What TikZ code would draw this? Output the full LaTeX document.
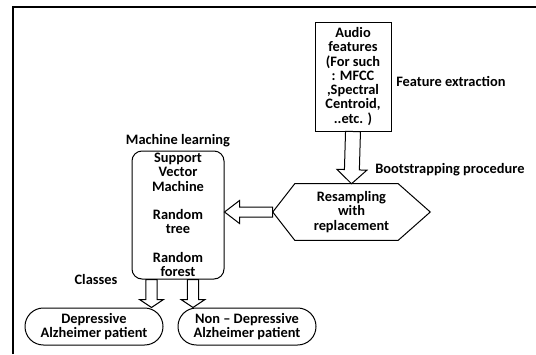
\documentclass[tikz,border=0pt]{standalone}
\usepackage{fontspec}
\setmainfont{Carlito}
\usepackage{tikz}
\usetikzlibrary{calc,positioning}

% hollow block arrow: shaft half width, head half width, head length, from, to
\newcommand\blockarrow[5]{%
\coordinate (ah) at ($(#5)!#3!(#4)$);
\draw[line width=0.75pt,fill=white] ($(#4)!#1!90:(#5)$) -- ($(ah)!#1!90:(#5)$) -- ($(ah)!#2!90:(#5)$) -- (#5) -- ($(ah)!#2!-90:(#5)$) -- ($(ah)!#1!-90:(#5)$) -- ($(#4)!#1!-90:(#5)$) -- cycle;
}

\begin{document}
\begin{tikzpicture}[x=0.75pt,y=0.75pt,yscale=-1,xscale=1,
  every node/.style={font=\fontsize{10.8}{10.7}\selectfont\bfseries},
  box/.style={draw,line width=0.75pt,align=center,inner sep=0pt},
  lbl/.style={align=left,inner sep=0pt}]
\useasboundingbox (0,0) rectangle (536,354);
\draw[line width=1.5pt] (13,354) -- (13,7) -- (536,7);
% nodes
\node[box,minimum width=57pt,minimum height=81.75pt] (audio) at (353,76.5) {Audio\\features\\(For such\\: MFCC\\,Spectral\\Centroid,\\..etc. )};
\node[lbl,anchor=west] (fext) at (396,81) {Feature extraction};
\node[align=center,inner sep=0pt,minimum width=117.75pt,minimum height=42pt] (hex) at (351.5,212) {Resampling\\with\\replacement};
\draw[line width=0.75pt] (hex.west) -- ($(hex.north west)+(22,0)$) -- ($(hex.north east)+(-32,0)$) -- (hex.east) -- ($(hex.south east)+(-32,0)$) -- ($(hex.south west)+(22,0)$) -- cycle;
\node[lbl,anchor=west] (boot) at (375,170) {Bootstrapping procedure};
\node[box,rounded corners=7.5pt,minimum width=69pt,minimum height=96pt] (ml) at (178,215) {Support\\Vector\\Machine\\[10.7pt]Random\\tree\\[10.7pt]Random\\forest};
\node[lbl,above=2.5pt of ml] (mltitle) {Machine learning};
\node[lbl] (classes) at (96,279) {Classes};
\node[box,rounded corners=13.8pt,minimum width=103.5pt,minimum height=27.75pt] (dep) at (94,326.5) {Depressive\\Alzheimer patient};
\node[box,rounded corners=13.8pt,minimum width=103.5pt,minimum height=27.75pt] (ndep) at (247,326.5) {Non -- Depressive\\Alzheimer patient};
\coordinate (d1) at ($(ml.south)+(-26.5,0)$);
\coordinate (d2) at ($(ml.south)+(15,0)$);
% arrows
\blockarrow{5.6pt}{11.25pt}{10.5pt}{audio.south}{hex.north}
\blockarrow{3.75pt}{8.6pt}{11.25pt}{hex.west}{hex.west -| ml.east}
\blockarrow{4.3pt}{9pt}{6pt}{d1}{d1 |- dep.north}
\blockarrow{4.3pt}{9pt}{6pt}{d2}{d2 |- ndep.north}
\end{tikzpicture}
\end{document}
